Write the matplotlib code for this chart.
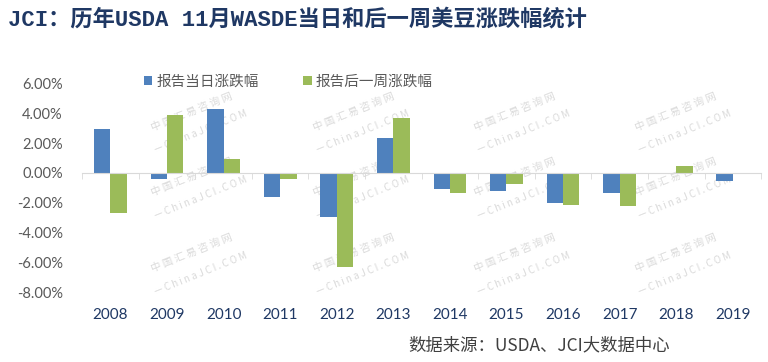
import numpy as np
import matplotlib
matplotlib.use("Agg")
import matplotlib.pyplot as plt
import matplotlib.transforms as mtrans

plt.rcParams['font.family'] = ['Noto Sans CJK SC', 'DejaVu Sans']

years = ['2008', '2009', '2010', '2011', '2012', '2013',
         '2014', '2015', '2016', '2017', '2018', '2019']
day_chg = [2.93, -0.39, 4.28, -1.63, -2.98, 2.33,
           -1.09, -1.23, -2.04, -1.36, -0.08, -0.55]
week_chg = [-2.71, 3.88, 0.91, -0.39, -6.28, 3.67,
            -1.36, -0.75, -2.17, -2.24, 0.44, 0.0]
series_names = ['报告当日涨跌幅', '报告后一周涨跌幅']
yticks = [-8, -6, -4, -2, 0, 2, 4, 6]

blue = '#4F81BD'
green = '#9BBB59'
navy = '#1F3864'

fig = plt.figure(figsize=(7.68, 3.62), dpi=100)
ax = fig.add_axes([0.107, 0.193, 0.884, 0.576])

x = np.arange(len(years))
w = 0.29
ax.bar(x - w / 2, day_chg, w, color=blue, label=series_names[0], zorder=3)
ax.bar(x + w / 2, week_chg, w, color=green, label=series_names[1], zorder=3)

ax.set_xlim(-0.5, len(years) - 0.5)
ax.set_ylim(-8, 6)
ax.set_yticks(yticks)
ax.set_yticklabels([f'{v:.2f}%' for v in yticks], fontsize=10.5,
                   color='#595959', family=['Lato', 'DejaVu Sans'])
ax.tick_params(axis='y', length=0, pad=14)

for s in ['top', 'right', 'left']:
    ax.spines[s].set_visible(False)
ax.spines['bottom'].set_position(('data', 0))
ax.spines['bottom'].set_color('#D9D9D9')
ax.spines['bottom'].set_zorder(4)
ax.set_xticks(np.arange(len(years) + 1) - 0.5, minor=True)
ax.set_xticks([])
ax.tick_params(axis='x', which='minor', length=4, color='#D9D9D9',
               direction='out')

trans = mtrans.blended_transform_factory(ax.transData, ax.transAxes)
for i, yr in enumerate(years):
    ax.text(i, -0.11, yr, transform=trans, ha='center', va='center',
            fontsize=11, color=navy, family=['Lato', 'DejaVu Sans'])

# watermarks (behind the bars)
rows = [0.69, 0.51, 0.30]
cols = [0.25, 0.46, 0.67, 0.88]
for yy in rows:
    for xx in cols:
        ax.text(xx, yy, '中 国 汇 易 咨 询 网', rotation=22, transform=fig.transFigure,
                ha='center', va='center', fontsize=7.5, color='#DADADA',
                zorder=1, clip_on=False)
        ax.text(xx + 0.012, yy - 0.055, '— C h i n a J C I . C O M', rotation=22,
                transform=fig.transFigure, ha='center', va='center',
                fontsize=7, color='#DADADA', zorder=1, clip_on=False)

ax.legend(loc='center left', bbox_to_anchor=(0.17, 0.775),
          bbox_transform=fig.transFigure, ncol=2, frameon=False,
          handlelength=0.6, handleheight=0.6, handletextpad=0.3,
          columnspacing=3.0, prop={'size': 10.5},
          labelcolor='#595959')

fig.text(0.01, 0.945, 'JCI：历年USDA 11月WASDE当日和后一周美豆涨跌幅统计',
         fontsize=16, fontweight='bold', color=navy, ha='left', va='center',
         family=['Liberation Mono', 'Noto Sans CJK SC'])

fig.text(0.532, 0.047, '数据来源：USDA、JCI大数据中心', fontsize=12.5,
         color='#404040', ha='left', va='center')

fig.savefig('out.png', dpi=100)
